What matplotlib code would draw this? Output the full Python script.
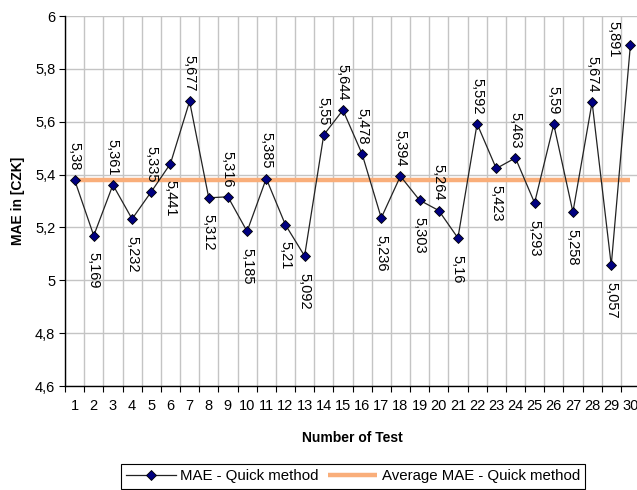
import matplotlib
matplotlib.use("Agg")
from matplotlib import pyplot as plt
from matplotlib.ticker import FixedLocator, FuncFormatter

plt.rcParams['font.family'] = ['Liberation Sans', 'DejaVu Sans']

# Data
tests = list(range(1, 31))
mae = [5.38, 5.169, 5.361, 5.232, 5.335, 5.441, 5.677, 5.312, 5.316, 5.185,
       5.385, 5.21, 5.092, 5.55, 5.644, 5.478, 5.236, 5.394, 5.303, 5.264,
       5.16, 5.592, 5.423, 5.463, 5.293, 5.59, 5.258, 5.674, 5.057, 5.891]
avg_mae = 5.379
# where each data label sits: True = above the point
label_above = [True, False, True, False, True, False, True, False, True, False,
               True, False, False, True, True, True, False, True, False, True,
               False, True, False, True, False, True, False, True, False, True]
y_ticks = [4.6, 4.8, 5.0, 5.2, 5.4, 5.6, 5.8, 6.0]

fig = plt.figure(figsize=(6.37, 4.9), dpi=100)
ax = fig.add_axes([65 / 637, 104 / 490, 575 / 637, 370 / 490])

# average line
ax.plot([tests[0], tests[-1]], [avg_mae, avg_mae], color='#F9AE7A', lw=3.2,
        solid_capstyle='butt', zorder=2, label='Average MAE - Quick method')
# per-test values
ax.plot(tests, mae, color='#222222', lw=0.9, marker='D', markersize=5,
        markerfacecolor='#000080', markeredgecolor='black', markeredgewidth=0.6,
        zorder=3, label='MAE - Quick method')

for i, (x, v, up) in enumerate(zip(tests, mae, label_above)):
    txt = f"{v:g}".replace('.', ',')
    if i == len(tests) - 1:
        # last label gets pushed left of the point to stay inside the chart
        ax.annotate(txt, (x, v), xytext=(-12, 4), textcoords='offset points',
                    rotation=270, ha='center', va='center', fontsize=10.5)
        continue
    ax.annotate(txt, (x, v), xytext=(0, 7 if up else -12), textcoords='offset points',
                rotation=270, ha='center', va='bottom' if up else 'top',
                fontsize=10.5)

ax.set_xlim(0.5, 30.5)
ax.set_ylim(4.6, 6.0)
ax.set_yticks(y_ticks)
ax.yaxis.set_major_formatter(FuncFormatter(lambda v, p: f"{v:g}".replace('.', ',')))
ax.set_xticks(tests)
ax.xaxis.set_minor_locator(FixedLocator([t + 0.5 for t in range(0, 31)]))
ax.tick_params(axis='x', which='major', length=0, labelsize=10.5, pad=9)
ax.tick_params(axis='x', which='minor', length=4, direction='out', width=0.8)
ax.tick_params(axis='y', which='major', length=4, direction='out', width=0.8,
               labelsize=10.5, pad=3)

ax.grid(axis='y', which='major', color='#c4c4c4', lw=1)
ax.grid(axis='x', which='minor', color='#c4c4c4', lw=1)
ax.set_axisbelow(True)
for side in ('top', 'right'):
    ax.spines[side].set_visible(False)
ax.spines['left'].set_linewidth(1)
ax.spines['bottom'].set_linewidth(1)

ax.set_xlabel('Number of Test', fontsize=10, fontweight='bold', labelpad=13)
ax.set_ylabel('MAE in [CZK]', fontsize=10, fontweight='bold', labelpad=7)

handles, labels = ax.get_legend_handles_labels()
leg = fig.legend(handles[::-1], labels[::-1], loc='upper left',
                 bbox_to_anchor=(121 / 637, 26 / 490), ncol=2, fontsize=10.8,
                 frameon=True, fancybox=False, edgecolor='black', framealpha=1,
                 handlelength=3.3, handletextpad=0.3, columnspacing=0.6,
                 borderpad=0.35, borderaxespad=0)
leg.get_frame().set_linewidth(0.8)

fig.savefig('out.png', dpi=100)
